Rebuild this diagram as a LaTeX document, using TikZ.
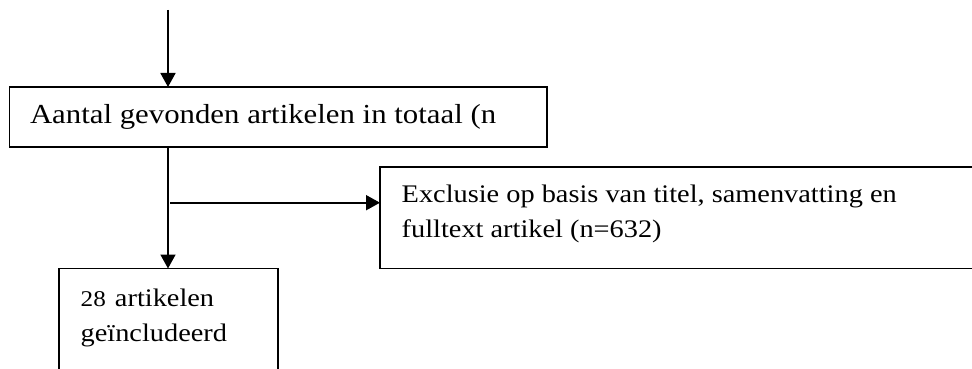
\documentclass[tikz,border=0pt]{standalone}
\usepackage{fontspec}
\setmainfont[FakeStretch=1.12]{Liberation Serif}
\usetikzlibrary{arrows.meta}

\tikzset{
  frame/.style={draw=black, line width=1.8pt, rectangle, inner sep=0pt, outer sep=0pt, anchor=north west},
  txt/.style={inner sep=0pt, outer sep=0pt, anchor=base west, font=\fontsize{27.5}{34.5}\selectfont},
  smalltxt/.style={txt, font=\fontsize{25.3}{34.5}\selectfont},
  arr/.style={draw=black, line width=1.8pt, -{Triangle[length=14pt, width=15pt]}},
}

\begin{document}
\begin{tikzpicture}[x=1pt, y=-1pt]
  \useasboundingbox (0,0) rectangle (972,369);

  % boxes
  \node[frame, minimum width=537.5pt, minimum height=60pt] (total) at (9.5,87) {};
  \node[frame, minimum width=620pt, minimum height=101.5pt] (excl) at (380,167) {};
  \node[frame, minimum width=219pt, minimum height=130pt] (incl) at (59,268.5) {};

  % box texts
  \node[txt] (totaltxt) at (30,123.3) {Aantal gevonden artikelen in totaal (n};
  \node[smalltxt] (excltxta) at (401.7,202.7) {Exclusie op basis van titel, samenvatting en};
  \node[smalltxt] (excltxtb) at (401.7,237.2) {fulltext artikel (n=632)};
  \node[smalltxt] (incltxta) at (80.7,306) {{\fontsize{22.5}{22.5}\selectfont 28}\hspace{2pt} artikelen};
  \node[smalltxt] (incltxtb) at (80.7,341) {geïncludeerd};

  % connectors
  \coordinate (start) at (168,10);
  \coordinate (fork) at (170,202.7);
  \draw[arr] (start) -- (start |- total.north);
  \draw[arr] (start |- total.south) -- (start |- incl.north);
  \draw[arr] (fork) -- (fork -| excl.west);
\end{tikzpicture}
\end{document}
